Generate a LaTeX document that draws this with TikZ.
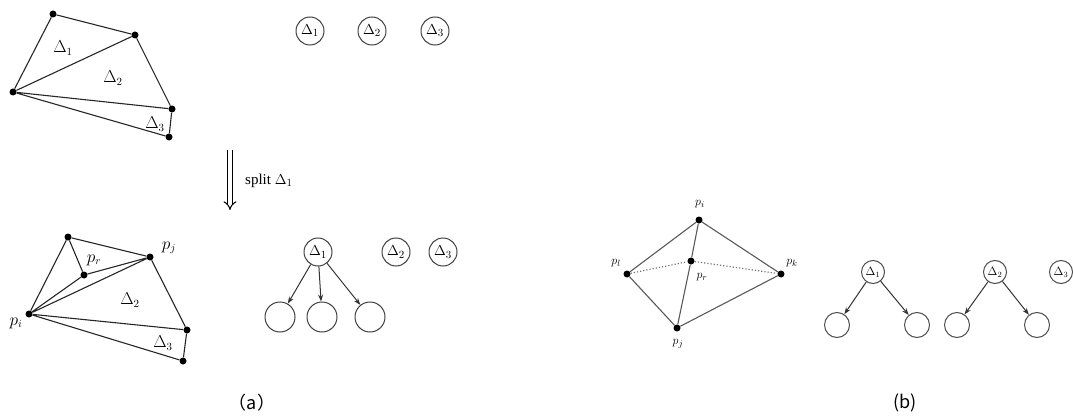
\documentclass[tikz,border=0pt]{standalone}
\usepackage{fontspec}
\setmainfont{Liberation Serif}
\newfontfamily\capfont{Noto Sans CJK SC}
\usetikzlibrary{arrows.meta}

\begin{document}
\begin{tikzpicture}[x=1pt,y=-1pt,
  edge/.style={draw=black!85, line width=1.1pt},
  gedge/.style={draw=black!65, line width=1.1pt},
  vtx/.style={circle, fill=black, inner sep=0pt, minimum size=7pt},
  lbl/.style={inner sep=0pt, font=\fontsize{16}{16}\selectfont},
  slbl/.style={inner sep=0pt, font=\fontsize{13}{13}\selectfont},
  tnode/.style={circle, draw=black!75, line width=1pt, minimum size=28pt, inner sep=0pt, font=\fontsize{15}{15}\selectfont},
  cnode/.style={circle, draw=black!75, line width=1pt, minimum size=30pt, inner sep=0pt},
  stnode/.style={circle, draw=black!70, line width=1pt, minimum size=23pt, inner sep=0pt, font=\fontsize{12}{12}\selectfont},
  scnode/.style={circle, draw=black!70, line width=1pt, minimum size=25pt, inner sep=0pt},
  tarrow/.style={draw=black!80, line width=1pt, -{Stealth[length=7pt,width=5pt]}},
  caption/.style={inner sep=0pt, font=\capfont\fontsize{18}{18}\selectfont}]

\useasboundingbox (0,0) rectangle (1073,417);

% ---- (a) upper triangulation ----
\node[vtx] (a1) at (53,14) {};
\node[vtx] (a2) at (135,35) {};
\node[vtx] (a3) at (13,92) {};
\node[vtx] (a4) at (172,109) {};
\node[vtx] (a5) at (169,137) {};
\draw[edge] (a1) -- (a2) (a1) -- (a3) (a2) -- (a3) (a2) -- (a4)
            (a3) -- (a4) (a4) -- (a5) (a3) -- (a5);
\node[lbl] (ta1) at (63,48) {$\Delta_1$};
\node[lbl] (ta2) at (113,78) {$\Delta_2$};
\node[lbl] (ta3) at (155,124) {$\Delta_3$};

% ---- (a) upper forest ----
\node[tnode] (u1) at (310,31) {$\Delta_1$};
\node[tnode] (u2) at (372,31) {$\Delta_2$};
\node[tnode] (u3) at (435,31) {$\Delta_3$};

% ---- split step ----
\coordinate (s0) at (230,150);
\coordinate (s1) at (230,210);
\draw[line width=1pt, double, double distance=3.5pt, -{Implies}] (s0) -- (s1);
\node[anchor=west, inner sep=0pt, font=\fontsize{15}{15}\selectfont] (split) at (245,181) {split $\Delta_1$};

% ---- (a) lower triangulation ----
\node[vtx] (b1) at (68,237) {};
\node[vtx] (br) at (84,275) {};
\node[vtx] (bj) at (150,257) {};
\node[vtx] (bi) at (29,314) {};
\node[vtx] (b4) at (187,330) {};
\node[vtx] (b5) at (183,361) {};
\draw[edge] (b1) -- (bj) (b1) -- (bi) (b1) -- (br) (br) -- (bj)
            (br) -- (bi) (bi) -- (bj) (bj) -- (b4) (bi) -- (b4)
            (b4) -- (b5) (bi) -- (b5);
\node[lbl] (lr) at (94,260) {$p_r$};
\node[lbl] (lj) at (169,248) {$p_j$};
\node[lbl] (li) at (16,323) {$p_i$};
\node[lbl] (tb2) at (130,300) {$\Delta_2$};
\node[lbl] (tb3) at (163,343) {$\Delta_3$};

% ---- (a) lower forest ----
\node[tnode] (d1) at (318,252) {$\Delta_1$};
\node[tnode] (d2) at (396,252) {$\Delta_2$};
\node[tnode] (d3) at (443,252) {$\Delta_3$};
\node[cnode] (c1) at (280,317) {};
\node[cnode] (c2) at (322,317) {};
\node[cnode] (c3) at (370,317) {};
\draw[tarrow] (d1) -- (c1);
\draw[tarrow] (d1) -- (c2);
\draw[tarrow] (d1) -- (c3);

% ---- (b) flip configuration ----
\node[vtx] (qi) at (699,220) {};
\node[vtx] (ql) at (627,274) {};
\node[vtx] (qr) at (691,261) {};
\node[vtx] (qk) at (781,274) {};
\node[vtx] (qj) at (677,328) {};
\draw[gedge] (ql) -- (qi) (qi) -- (qk) (ql) -- (qj) (qj) -- (qk)
             (qi) -- (qr) (qr) -- (qj);
\draw[draw=black!55, line width=1.2pt, dotted] (ql) -- (qr) -- (qk);
\node[slbl] (mi) at (700,204) {$p_i$};
\node[slbl] (ml) at (616,263) {$p_l$};
\node[slbl] (mr) at (702,277) {$p_r$};
\node[slbl] (mk) at (792,263) {$p_k$};
\node[slbl] (mj) at (678,344) {$p_j$};

% ---- (b) forest ----
\node[stnode] (e1) at (873,272) {$\Delta_1$};
\node[stnode] (e2) at (995,272) {$\Delta_2$};
\node[stnode] (e3) at (1061,272) {$\Delta_3$};
\node[scnode] (f1) at (837,325) {};
\node[scnode] (f2) at (917,325) {};
\node[scnode] (f3) at (957,325) {};
\node[scnode] (f4) at (1037,325) {};
\draw[tarrow] (e1) -- (f1);
\draw[tarrow] (e1) -- (f2);
\draw[tarrow] (e2) -- (f3);
\draw[tarrow] (e2) -- (f4);

% ---- captions ----
\node[caption] (capa) at (252,403) {（a）};
\node[caption] (capb) at (905,403) {(b)};
\end{tikzpicture}
\end{document}
